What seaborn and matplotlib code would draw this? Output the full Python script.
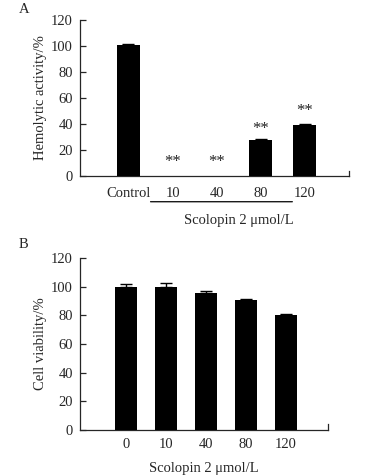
import matplotlib
matplotlib.use("Agg")
import matplotlib.pyplot as plt
import seaborn as sns
import pandas as pd
import numpy as np

# panel A: hemolytic activity
hemo_groups = ["Control", "10", "40", "80", "120"]
hemo_values = [101, 0, 0, 28, 39.5]
hemo_err = [0.5, 0, 0, 0.5, 0.5]
# significance marks (label, group, height, size)
hemo_stars = [("**", "10", 11, 12), ("**", "40", 11, 12), ("**", "80", 36.5, 12),
              ("**", "80", 24, 10.5), ("**", "120", 50, 12)]

# panel B: cell viability
via_groups = ["0", "10", "40", "80", "120"]
via_values = [100, 100, 95.5, 90.5, 80.5]
via_err = [2, 2.7, 1.2, 0.6, 0.6]

xlabel = "Scolopin 2 \u03bcmol/L"

sns.set_style("ticks")
plt.rcParams["font.family"] = ["Liberation Serif", "DejaVu Serif"]
plt.rcParams["font.size"] = 10.5

fig = plt.figure(figsize=(3.72, 4.75), dpi=100)
axA = fig.add_axes([0.215, 0.6295, 0.723, 0.3285])
axB = fig.add_axes([0.215, 0.0947, 0.667, 0.3623])


def draw_errors(ax, vals, errs):
    x = np.arange(len(vals))
    keep = np.array(errs) > 0
    ax.errorbar(x[keep], np.array(vals)[keep], yerr=[np.zeros(keep.sum()), np.array(errs)[keep]],
                fmt="none", ecolor="black", elinewidth=1, capsize=4, capthick=1, zorder=4)


dfA = pd.DataFrame({"group": hemo_groups, "value": hemo_values})
sns.barplot(data=dfA, x="group", y="value", order=hemo_groups, color="black",
            saturation=1, width=0.52, errorbar=None, linewidth=0, ax=axA, zorder=3)
draw_errors(axA, hemo_values, hemo_err)
for lab, g, h, fs in hemo_stars:
    axA.text(hemo_groups.index(g), h, lab, ha="center", va="center", fontsize=fs,
             color="#222222", zorder=2)
axA.set_xlim(-1.1, 5.0)
axA.set_ylim(0, 120)
axA.set_yticks(range(0, 121, 20))
axA.set_ylabel("Hemolytic activity/%", labelpad=3)
axA.set_xlabel("")
axA.tick_params(axis="y", direction="in", length=4, width=0.9, pad=5)
axA.tick_params(axis="x", length=0, pad=8)
axA.spines["top"].set_visible(False)
axA.spines["right"].set_bounds(0, 3.5)
for s in axA.spines.values():
    s.set_linewidth(0.9)
# bracket line under the dose labels
axA.annotate("", xy=(0.252, -0.165), xytext=(0.80, -0.165), xycoords="axes fraction",
             arrowprops=dict(arrowstyle="-", lw=0.9, color="black"), annotation_clip=False)
axA.text(0.59, -0.285, xlabel, transform=axA.transAxes, ha="center", va="center")
axA.text(-0.208, 1.065, "A", transform=axA.transAxes, ha="center", va="center")

dfB = pd.DataFrame({"group": via_groups, "value": via_values})
sns.barplot(data=dfB, x="group", y="value", order=via_groups, color="black",
            saturation=1, width=0.55, errorbar=None, linewidth=0, ax=axB, zorder=3)
draw_errors(axB, via_values, via_err)
axB.set_xlim(-1.15, 5.05)
axB.set_ylim(0, 120)
axB.set_yticks(range(0, 121, 20))
axB.set_ylabel("Cell viability/%", labelpad=3)
axB.set_xlabel(xlabel, labelpad=8)
axB.tick_params(axis="y", direction="in", length=4, width=0.9, pad=5)
axB.tick_params(axis="x", length=0, pad=6)
axB.spines["top"].set_visible(False)
axB.spines["right"].set_bounds(0, 4)
for s in axB.spines.values():
    s.set_linewidth(0.9)
axB.text(-0.226, 1.076, "B", transform=axB.transAxes, ha="center", va="center")

fig.savefig("out.png", dpi=100)
